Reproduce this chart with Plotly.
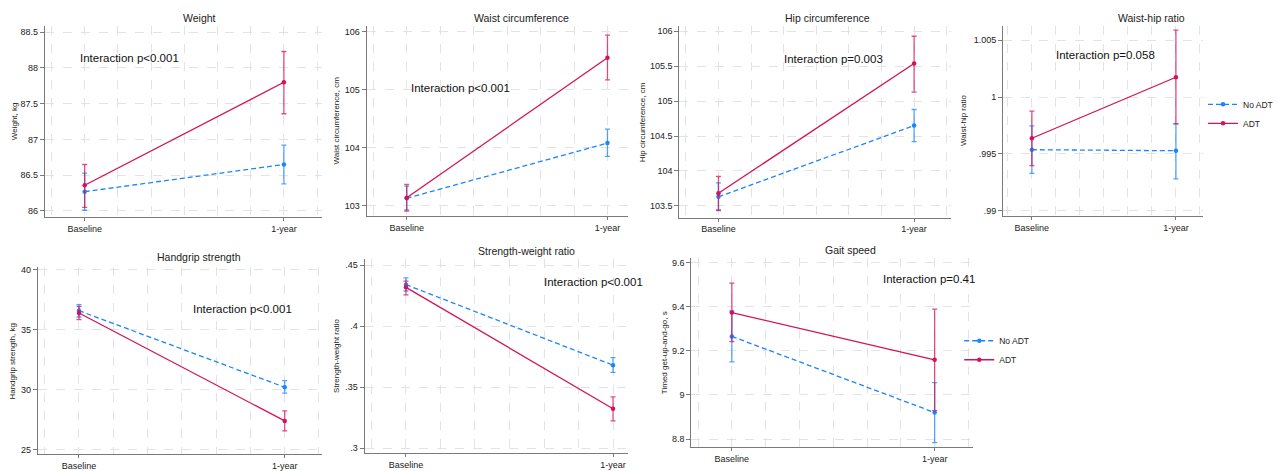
import plotly.graph_objects as go

W, H = 1278, 471

# ---------------- data ----------------
time_labels = ["Baseline", "1-year"]
time_pos = [0, 1]
groups = ["No ADT", "ADT"]

# Weight, kg
weight_noadt = [86.27, 86.65]
weight_noadt_lo = [86.01, 86.38]
weight_noadt_hi = [86.53, 86.92]
weight_adt = [86.36, 87.80]
weight_adt_lo = [86.05, 87.36]
weight_adt_hi = [86.65, 88.23]

# Waist circumference, cm
waist_noadt = [103.13, 104.08]
waist_noadt_lo = [102.93, 103.85]
waist_noadt_hi = [103.34, 104.32]
waist_adt = [103.14, 105.55]
waist_adt_lo = [102.91, 105.17]
waist_adt_hi = [103.37, 105.94]

# Hip circumference, cm
hip_noadt = [103.63, 104.65]
hip_noadt_lo = [103.43, 104.42]
hip_noadt_hi = [103.83, 104.88]
hip_adt = [103.68, 105.54]
hip_adt_lo = [103.44, 105.13]
hip_adt_hi = [103.92, 105.93]

# Waist-hip ratio
whr_noadt = [0.99537, 0.99528]
whr_noadt_lo = [0.99328, 0.99281]
whr_noadt_hi = [0.99746, 0.99763]
whr_adt = [0.99638, 1.00175]
whr_adt_lo = [0.99397, 0.99766]
whr_adt_hi = [0.99876, 1.00590]

# Handgrip strength, kg
grip_noadt = [36.57, 30.21]
grip_noadt_lo = [36.05, 29.72]
grip_noadt_hi = [37.07, 30.76]
grip_adt = [36.38, 27.41]
grip_adt_lo = [35.83, 26.59]
grip_adt_hi = [36.93, 28.24]

# Strength-weight ratio
swr_noadt = [0.4341, 0.3681]
swr_noadt_lo = [0.4289, 0.3622]
swr_noadt_hi = [0.4397, 0.3743]
swr_adt = [0.4319, 0.3324]
swr_adt_lo = [0.4257, 0.3224]
swr_adt_hi = [0.4370, 0.3422]

# Timed get-up-and-go, s
tug_noadt = [9.265, 8.920]
tug_noadt_lo = [9.150, 8.784]
tug_noadt_hi = [9.380, 9.056]
tug_adt = [9.373, 9.159]
tug_adt_lo = [9.241, 8.929]
tug_adt_hi = [9.506, 9.389]

# Interaction p-values
p_labels = ["Interaction p<0.001", "Interaction p<0.001", "Interaction p=0.003",
            "Interaction p=0.058", "Interaction p<0.001", "Interaction p<0.001",
            "Interaction p=0.41"]
titles = ["Weight", "Waist circumference", "Hip circumference", "Waist-hip ratio",
          "Handgrip strength", "Strength-weight ratio", "Gait speed"]
ytitles = ["Weight, kg", "Waist circumference, cm", "Hip circumference, cm",
           "Waist-hip ratio", "Handgrip strength, kg", "Strength-weight ratio",
           "Timed get-up-and-go, s"]
yticks = [
    [86, 86.5, 87, 87.5, 88, 88.5],
    [103, 104, 105, 106],
    [103.5, 104, 104.5, 105, 105.5, 106],
    [0.99, 0.995, 1.0, 1.005],
    [25, 30, 35, 40],
    [0.3, 0.35, 0.4, 0.45],
    [8.8, 9.0, 9.2, 9.4, 9.6],
]
ytick_text = [
    ["86", "86.5", "87", "87.5", "88", "88.5"],
    ["103", "104", "105", "106"],
    ["103.5", "104", "104.5", "105", "105.5", "106"],
    [".99", ".995", "1", "1.005"],
    ["25", "30", "35", "40"],
    [".3", ".35", ".4", ".45"],
    ["8.8", "9", "9.2", "9.4", "9.6"],
]

series = [
    (weight_noadt, weight_noadt_lo, weight_noadt_hi, weight_adt, weight_adt_lo, weight_adt_hi),
    (waist_noadt, waist_noadt_lo, waist_noadt_hi, waist_adt, waist_adt_lo, waist_adt_hi),
    (hip_noadt, hip_noadt_lo, hip_noadt_hi, hip_adt, hip_adt_lo, hip_adt_hi),
    (whr_noadt, whr_noadt_lo, whr_noadt_hi, whr_adt, whr_adt_lo, whr_adt_hi),
    (grip_noadt, grip_noadt_lo, grip_noadt_hi, grip_adt, grip_adt_lo, grip_adt_hi),
    (swr_noadt, swr_noadt_lo, swr_noadt_hi, swr_adt, swr_adt_lo, swr_adt_hi),
    (tug_noadt, tug_noadt_lo, tug_noadt_hi, tug_adt, tug_adt_lo, tug_adt_hi),
]

# ---------------- layout (pixels) ----------------
# plot boxes: (left, right, top, bottom)
boxes = [
    (45, 323, 23, 216),
    (368, 630, 23, 215),
    (682, 955, 23, 217),
    (1007, 1208, 23, 215),
    (38, 323, 267, 456),
    (366, 630, 259, 455),
    (694, 977, 258, 449),
]
xranges = [[-0.2, 1.19], [-0.2, 1.1], [-0.2, 1.19], [-0.2, 1.19],
           [-0.2, 1.18], [-0.2, 1.07], [-0.2, 1.19]]
yranges = [[85.92, 88.59], [102.83, 106.1], [103.33, 106.08], [0.98956, 1.00628],
           [24.65, 40.19], [0.296, 0.4549], [8.763, 9.619]]
title_pos = [(200, 15), (524, 15), (831, 15), (1156, 15), (200, 257), (529, 251), (854, 250)]
ptext_pos = [(78, 56), (411, 86), (785, 57), (1058, 53), (192, 309), (544, 282), (884, 279)]
ytitle_x = [14, 338, 645, 968, 13, 338, 667]

BLUE = "#1a85ff"
PINK = "#d41159"
BLUE_CI = "rgba(26,133,255,0.75)"
PINK_CI = "rgba(212,17,89,0.75)"
FONT = "Liberation Sans, Arial, Helvetica, sans-serif"
GRID = "#e3e3e3"
AXIS = "#7a7a7a"


def px(x):
    return x / W


def py(y):
    return 1 - y / H


fig = go.Figure()
annotations = []

for i, (s, box) in enumerate(zip(series, boxes)):
    n = i + 1
    xa = "x" if n == 1 else f"x{n}"
    ya = "y" if n == 1 else f"y{n}"
    no, no_lo, no_hi, ad, ad_lo, ad_hi = s
    legend_name = None
    show = False
    if n == 4:
        show, legend_name = True, "legend"
    elif n == 7:
        show, legend_name = True, "legend2"
    for vals, lo, hi, name, col, cicol, dash in [
        (no, no_lo, no_hi, groups[0], BLUE, BLUE_CI, "5px,3px"),
        (ad, ad_lo, ad_hi, groups[1], PINK, PINK_CI, "solid"),
    ]:
        kw = dict(
            x=time_pos, y=vals, name=name, mode="lines+markers",
            line=dict(color=col, width=1.3, dash=dash),
            marker=dict(color=col, size=4.5, symbol="circle"),
            error_y=dict(type="data", symmetric=False,
                         array=[h - v for h, v in zip(hi, vals)],
                         arrayminus=[v - l for v, l in zip(vals, lo)],
                         color=cicol, thickness=1.3, width=2.5),
            xaxis=xa, yaxis=ya, showlegend=show, hoverinfo="skip",
        )
        if legend_name:
            kw["legend"] = legend_name
        fig.add_trace(go.Scatter(**kw))

    l, r, t, b = box
    xkey = "xaxis" if n == 1 else f"xaxis{n}"
    ykey = "yaxis" if n == 1 else f"yaxis{n}"
    fig.layout[xkey] = dict(
        domain=[px(l), px(r)], range=xranges[i], anchor=ya,
        tickmode="array", tickvals=time_pos, ticktext=time_labels,
        ticks="outside", ticklen=3, tickcolor=AXIS, tickwidth=1,
        showline=True, linecolor=AXIS, linewidth=1,
        showgrid=True, gridcolor=GRID, griddash="dash", gridwidth=1,
        minor=dict(tickvals=[k / 6 for k in range(-1, 8)], showgrid=True,
                   gridcolor=GRID, griddash="dash", ticklen=0),
        zeroline=False, fixedrange=True,
        tickfont=dict(family=FONT, size=9, color="#222"),
    )
    fig.layout[ykey] = dict(
        domain=[py(b), py(t)], range=yranges[i], anchor=xa,
        tickmode="array", tickvals=yticks[i], ticktext=ytick_text[i],
        ticks="outside", ticklen=4, tickcolor=AXIS, tickwidth=1,
        showline=True, linecolor=AXIS, linewidth=1,
        showgrid=True, gridcolor=GRID, griddash="dash", gridwidth=1,
        zeroline=False, fixedrange=True,
        tickfont=dict(family=FONT, size=9, color="#222"),
    )

    tx, ty = title_pos[i]
    annotations.append(dict(x=px(tx), y=py(ty), xref="paper", yref="paper",
                            text=titles[i], showarrow=False, xanchor="center",
                            yanchor="middle",
                            font=dict(family=FONT, size=10.5, color="#222")))
    ptx, pty = ptext_pos[i]
    annotations.append(dict(x=px(ptx), y=py(pty), xref="paper", yref="paper",
                            text=p_labels[i], showarrow=False, xanchor="left",
                            yanchor="middle",
                            font=dict(family=FONT, size=11.5, color="#111")))
    annotations.append(dict(x=px(ytitle_x[i]), y=py((t + b) / 2), xref="paper",
                            yref="paper", text=ytitles[i], showarrow=False,
                            textangle=-90, xanchor="center", yanchor="middle",
                            font=dict(family=FONT, size=8, color="#222")))

fig.update_layout(
    width=W, height=H, autosize=False,
    margin=dict(l=0, r=0, t=0, b=0),
    paper_bgcolor="white", plot_bgcolor="white",
    annotations=annotations,
    legend=dict(x=px(1208), y=py(112), xanchor="left", yanchor="middle",
                font=dict(family=FONT, size=8.5, color="#222"),
                bgcolor="rgba(0,0,0,0)", itemwidth=30, tracegroupgap=0),
    legend2=dict(x=px(963), y=py(351), xanchor="left", yanchor="middle",
                 font=dict(family=FONT, size=8.5, color="#222"),
                 bgcolor="rgba(0,0,0,0)", itemwidth=30, tracegroupgap=0),
)

fig.write_html("out.html", config={"displayModeBar": False},
               post_script="document.body.style.margin='0';document.body.style.overflow='hidden';")
